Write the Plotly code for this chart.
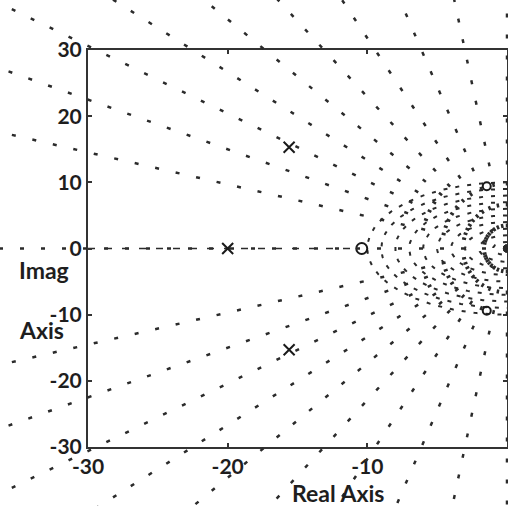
import numpy as np
import plotly.graph_objects as go

# s-plane data
pole_re = [-20.0, -15.6, -15.6]
pole_im = [0.0, 15.3, -15.3]
zero_re = [-10.4]
zero_im = [0.0]
zero2_re = [-1.45, -1.45]
zero2_im = [9.4, -9.4]

# grid: constant damping ratio rays and constant natural-frequency arcs
zetas = [0.0, 0.1, 0.2, 0.3, 0.4, 0.5, 0.6, 0.7, 0.8, 0.9, 1.0]
wns = [1, 2, 3, 4, 5, 6, 7, 8, 9, 10]

x_ticks = [-30, -20, -10, 0]
y_ticks = [-30, -20, -10, 0, 10, 20, 30]

W, H = 508, 506
# frame of the axes in pixels
L, R, T, B = 88, 507, 50, 447
xr = [-30, 0]
yr = [-30, 30]
sx = (R - L) / (xr[1] - xr[0])
sy = (B - T) / (yr[1] - yr[0])
# full-canvas axes sharing the same scale (lets grid rays run past the frame)
xr_full = [xr[0] - L / sx, xr[1] + (W - R) / sx]
yr_full = [yr[0] - (H - B) / sy, yr[1] + T / sy]

ink = "#2b2b2b"
mark = "#1a1a1a"
fig = go.Figure()

# damping-ratio rays from the origin
ray_len = 70
for z in zetas:
    for sgn in (1, -1):
        if z == 1.0 and sgn == -1:
            continue
        xs = [0, -ray_len * z]
        ys = [0, sgn * ray_len * np.sqrt(max(0.0, 1 - z * z))]
        fig.add_trace(go.Scatter(x=xs, y=ys, mode="lines", xaxis="x2", yaxis="y2",
                                 line=dict(color=ink, width=2.5, dash="4px,17px"),
                                 hoverinfo="skip", showlegend=False))

# natural-frequency semicircles in the left half plane
th = np.linspace(np.pi / 2, 3 * np.pi / 2, 160)
for wn in wns:
    fig.add_trace(go.Scatter(x=wn * np.cos(th), y=wn * np.sin(th), mode="lines",
                             line=dict(color=ink, width=2, dash="4px,8px"),
                             hoverinfo="skip", showlegend=False))

# real-axis branch of the locus
fig.add_trace(go.Scatter(x=[xr[0], zero_re[0] - 0.5], y=[0, 0], mode="lines",
                         line=dict(color=ink, width=1.5, dash="7px,10px"),
                         hoverinfo="skip", showlegend=False))

# poles and zeros
fig.add_trace(go.Scatter(x=pole_re, y=pole_im, mode="markers",
                         marker=dict(symbol="x-thin-open", size=11, color=mark,
                                     line=dict(color=mark, width=2)),
                         showlegend=False))
fig.add_trace(go.Scatter(x=zero_re, y=zero_im, mode="markers",
                         marker=dict(symbol="circle-open", size=11, color=mark,
                                     line=dict(color=mark, width=2)),
                         showlegend=False))
fig.add_trace(go.Scatter(x=zero2_re, y=zero2_im, mode="markers",
                         marker=dict(symbol="circle-open", size=8, color=mark,
                                     line=dict(color=mark, width=2)),
                         showlegend=False))

family = "Lato, 'DejaVu Sans', sans-serif"
tick_font = dict(family=family, size=21, color="#1e1e1e", weight="bold")

axis_common = dict(showgrid=False, zeroline=False, showline=True,
                   linecolor="#333333", linewidth=2, mirror="ticks",
                   ticks="inside", ticklen=4, tickwidth=1.5, tickcolor="#333333",
                   tickfont=tick_font, automargin=False)

fig.update_layout(
    width=W, height=H,
    margin=dict(l=0, r=0, t=0, b=0, pad=0, autoexpand=False),
    paper_bgcolor="white",
    plot_bgcolor="rgba(0,0,0,0)",
    font=dict(family=family, size=20, color="#1e1e1e"),
    xaxis=dict(domain=[L / W, R / W], range=xr, tickvals=x_ticks,
               ticktext=[str(v) for v in x_ticks], anchor="y", **axis_common),
    yaxis=dict(domain=[(H - B) / H, (H - T) / H], range=yr, tickvals=y_ticks,
               ticktext=[str(v) for v in y_ticks], anchor="x", **axis_common),
    xaxis2=dict(domain=[0, 1], range=xr_full, visible=False, anchor="y2"),
    yaxis2=dict(domain=[0, 1], range=yr_full, visible=False, anchor="x2"),
)

title_font = dict(family=family, size=23, color="#1e1e1e", weight="bold")
fig.add_annotation(text="Real Axis", xref="paper", yref="paper",
                   x=338 / W, y=1 - 493 / H, xanchor="center", yanchor="middle",
                   showarrow=False, font=title_font)
fig.add_annotation(text="Imag", xref="paper", yref="paper",
                   x=17 / W, y=1 - 270 / H, xanchor="left", yanchor="middle",
                   showarrow=False, font=title_font)
fig.add_annotation(text="Axis", xref="paper", yref="paper",
                   x=17 / W, y=1 - 330 / H, xanchor="left", yanchor="middle",
                   showarrow=False, font=title_font)

fig.write_html("out.html")
